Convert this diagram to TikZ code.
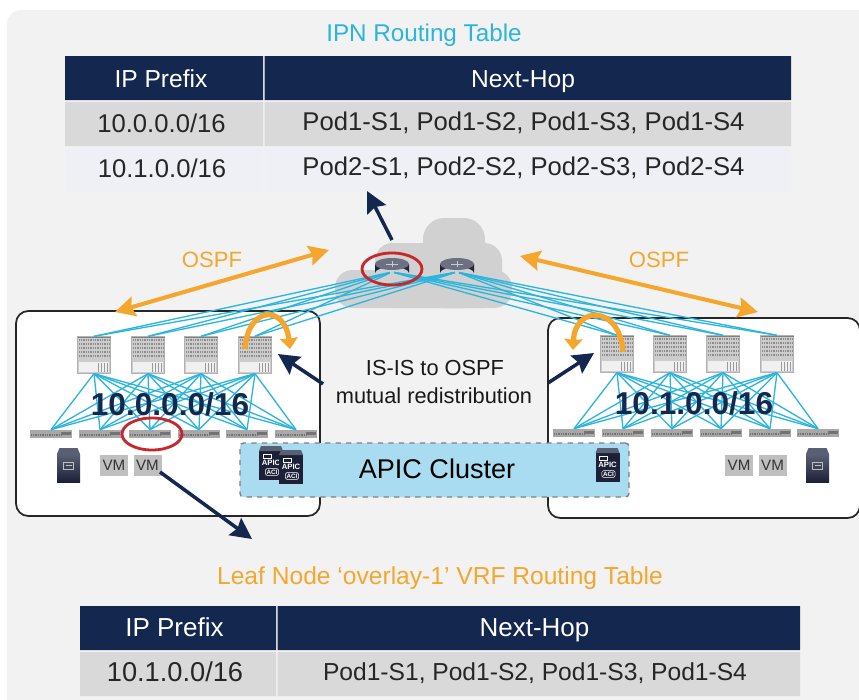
\documentclass[tikz,border=0pt]{standalone}
\usepackage{fontspec}
\setmainfont{Liberation Sans}
\usetikzlibrary{arrows.meta,shapes.geometric}
\definecolor{navy}{HTML}{14284F}
\definecolor{sky}{HTML}{2BB5DD}
\definecolor{amber}{HTML}{F6A62C}
\definecolor{wash}{HTML}{F2F2F2}
\definecolor{apicblue}{HTML}{A9DCF0}
\definecolor{crimson}{HTML}{C8252C}
\definecolor{rowgray}{HTML}{D9D9D9}
\definecolor{rowpale}{HTML}{EEF0F5}
\definecolor{boxdark}{HTML}{1D2138}
\definecolor{boxtop}{HTML}{5A6074}
\newcommand{\px}{0.02cm}
\tikzset{
  hdr/.style={text=white, inner sep=0pt, text height=10pt, text depth=0pt, font=\fontsize{14}{16}\selectfont},
  hdrb/.style={hdr, font=\fontsize{14.8}{16}\selectfont},
  cell/.style={inner sep=0pt, text=black!85, text height=10pt, text depth=0pt, font=\fontsize{14.6}{16}\selectfont},
  cellb/.style={cell, font=\fontsize{14}{16}\selectfont},
  cellc/.style={cell, font=\fontsize{15.5}{16}\selectfont},
  podbox/.style={draw=black!85, line width=1pt, fill=white, rounded corners=7pt},
  spine/.style={fill=black!20, draw=black!30, line width=0.2pt, minimum width=33*\px, minimum height=37*\px, inner sep=0pt},
  leaf/.style={fill=black!34, minimum width=42*\px, minimum height=8*\px, inner sep=0pt},
  vmbox/.style={fill=black!25, text=black!80, minimum width=28*\px, minimum height=21*\px, inner sep=0pt, font=\fontsize{8.6}{10}\selectfont},
  link/.style={draw=sky, line width=0.75pt},
  ospf/.style={draw=amber, line width=2.3pt, {Stealth[length=20*\px,width=20*\px,inset=3*\px]}-{Stealth[length=20*\px,width=20*\px,inset=3*\px]}},
  turnarrow/.style={draw=amber, line width=3pt, -{Stealth[length=11*\px,width=18*\px,inset=1*\px]}},
  pointer/.style={draw=navy, line width=2pt, -{Stealth[length=21*\px,width=21*\px,inset=3*\px]}},
  redmark/.style={draw=crimson, line width=1.6pt, ellipse, minimum width=60*\px, minimum height=32*\px},
  podlabel/.style={text=navy, font=\bfseries\fontsize{18}{20}\selectfont},
  blacklabel/.style={font=\fontsize{12.4}{15}\selectfont, text=black!90},
  orangelabel/.style={text=amber, font=\fontsize{12.6}{15}\selectfont}
}
\newcommand{\spinemarks}[2]{
  \begin{scope}[shift={(#1,#2)}]
    \foreach \ry in {-15,-11,-7,-3,1}
      \draw[black!45, line width=1.2pt, dash pattern=on 0.5pt off 0.5pt] (-15,\ry) -- (15,\ry);
    \fill[black!6] (-15,7) rectangle (15,17);
    \draw[black!50, line width=0.3pt] (-16.5,-18) -- (16.5,-18);
    \foreach \rx in {4,7,10,13}
      \draw[black!40, line width=0.4pt] (\rx,8) -- (\rx,17);
  \end{scope}
}
\newcommand{\leafmarks}[2]{
  \begin{scope}[shift={(#1,#2)}]
    \draw[black!55, line width=1pt, dash pattern=on 0.5pt off 0.5pt] (-20,1) -- (10,1);
    \fill[black!55] (10,-2) rectangle (20,1);
  \end{scope}
}
\newcommand{\routerart}[2]{
  \begin{scope}[shift={(#1,#2)}]
    \shade[left color=boxdark, right color=boxdark, middle color=boxtop!70!boxdark]
      (-17,-4) -- (-17,5) arc[start angle=180, end angle=360, x radius=17, y radius=6] -- (17,-4) -- cycle;
    \fill[boxtop!90!white] (0,-4) ellipse[x radius=17, y radius=6];
    \draw[white!80!black, line width=0.4pt] (-6,-4) -- (6,-4) (0,-7) -- (0,-1);
  \end{scope}
}
\newcommand{\serverart}[2]{
  \begin{scope}[shift={(#1,#2)}]
    \shade[top color=boxtop, bottom color=boxdark] (-11.5,-11) rectangle (11.5,17);
    \fill[boxtop] (-11.5,-11) -- (-9,-17) -- (9,-17) -- (11.5,-11) -- cycle;
    \draw[black!25, line width=0.4pt] (-5,-3) rectangle (5,4);
    \draw[black!25, line width=0.4pt] (-3,0.5) -- (3,0.5);
  \end{scope}
}
\newcommand{\apicart}[2]{
  \begin{scope}[shift={(#1,#2)}]
    \fill[boxdark] (-12,-12) rectangle (12,17);
    \fill[boxtop] (-12,-12) -- (-10,-17) -- (10,-17) -- (12,-12) -- cycle;
    \draw[white, line width=0.4pt] (-8,-9) rectangle (0,-5);
    \node[text=white, inner sep=0pt, font=\bfseries\fontsize{4.4}{5}\selectfont] at (0,0) {APIC};
    \node[text=white, draw=white, line width=0.3pt, rounded corners=1pt, inner sep=0.7pt, font=\bfseries\fontsize{3.6}{4}\selectfont] at (1,9) {ACI};
  \end{scope}
}
\begin{document}
\begin{tikzpicture}[x=\px, y=-\px]
  \useasboundingbox (0,0) rectangle (859,700);
  \fill[wash, rounded corners=8pt] (7,10) rectangle (880,720);

  \fill[navy] (65,56) rectangle (263,100) (264.5,56) rectangle (791,100);
  \fill[rowgray] (65,102) rectangle (263,146) (264.5,102) rectangle (791,146);
  \fill[rowpale] (65,148) rectangle (263,192) (264.5,148) rectangle (791,192);
  \fill[navy] (80,606) rectangle (276,650) (277.5,606) rectangle (800,650);
  \fill[rowgray] (80,652) rectangle (276,696) (277.5,652) rectangle (800,696);

  \node[text=sky, font=\fontsize{13.8}{16}\selectfont] (IPNT) at (424,35) {IPN Routing Table};
  \node[hdr] (A1) at (161,79) {IP Prefix};
  \node[hdr] (A2) at (523,79) {Next-Hop};
  \node[cell] (B1) at (161.5,124) {10.0.0.0/16};
  \node[cell] (B2) at (523.5,122) {Pod1-S1, Pod1-S2, Pod1-S3, Pod1-S4};
  \node[cell] (C1) at (162,169) {10.1.0.0/16};
  \node[cell] (C2) at (523.5,167) {Pod2-S1, Pod2-S2, Pod2-S3, Pod2-S4};

  \node[podbox, minimum width=304*\px, minimum height=205*\px] (PA) at (168,413.5) {};
  \node[podbox, minimum width=312*\px, minimum height=200*\px] (PB) at (704,418) {};

  \fill[black!18, rounded corners=10pt] (335,270) rectangle (512,308);
  \fill[black!18, rounded corners=10pt] (375,243) rectangle (502,308);
  \fill[black!18, rounded corners=12pt] (423,218) rectangle (485,308);

  \node[inner sep=0pt, minimum size=2pt] (RA) at (392,272) {};
  \node[inner sep=0pt, minimum size=2pt] (RB) at (457,272) {};

  \foreach \sid/\sx/\sy in {SA1/94/355, SA2/148/355, SA3/201/355, SA4/255/355, SB1/617/354, SB2/670/354, SB3/723/354, SB4/777/354}
    \node[spine] (\sid) at (\sx,\sy) {};
  \foreach \lid/\lx in {LA1/51, LA2/100, LA3/150, LA4/199, LA5/247, LA6/296}
    \node[leaf] (\lid) at (\lx,434) {};
  \foreach \lid/\lx in {LB1/574, LB2/623, LB3/672, LB4/721, LB5/770, LB6/818}
    \node[leaf] (\lid) at (\lx,433) {};

  \foreach \r in {RA,RB}
    \foreach \s in {SA1,SA2,SA3,SA4,SB1,SB2,SB3,SB4}
      \draw[link] (\r) -- (\s.north);
  \foreach \s in {SA1,SA2,SA3,SA4}
    \foreach \l in {LA1,LA2,LA3,LA4,LA5,LA6}
      \draw[link] (\s.south) -- (\l.north);
  \foreach \s in {SB1,SB2,SB3,SB4}
    \foreach \l in {LB1,LB2,LB3,LB4,LB5,LB6}
      \draw[link] (\s.south) -- (\l.north);

  \foreach \sx/\sy in {94/355, 148/355, 201/355, 255/355, 617/354, 670/354, 723/354, 777/354}
    {\spinemarks{\sx}{\sy}}
  \foreach \lx in {51, 100, 150, 199, 247, 296}
    {\leafmarks{\lx}{434}}
  \foreach \lx in {574, 623, 672, 721, 770, 818}
    {\leafmarks{\lx}{433}}
  \routerart{392}{268}
  \routerart{457}{268}

  \node[podlabel] (NA) at (170,404) {10.0.0.0/16};
  \node[podlabel] (NB) at (694,403) {10.1.0.0/16};

  \node[redmark] (MA) at (392,269) {};
  \node[redmark] (MB) at (152,434) {};

  \node[vmbox] (VA1) at (114,465.5) {VM};
  \node[vmbox] (VA2) at (147.5,465.5) {VM};
  \node[vmbox] (VB1) at (739,465.5) {VM};
  \node[vmbox] (VB2) at (772.5,465.5) {VM};
  \serverart{68.5}{465}
  \serverart{817.5}{465}

  \node[fill=apicblue, draw=black!50, dashed, line width=0.8pt, rounded corners=2pt, minimum width=389*\px, minimum height=54*\px, inner sep=0pt] (AC) at (434.5,470) {};
  \node[text=black, font=\fontsize{15.4}{18}\selectfont] (ACT) at (437,469) {APIC Cluster};
  \apicart{271}{463}
  \apicart{291}{467}
  \apicart{607.5}{465}

  \node[orangelabel] (OA) at (212,260) {OSPF};
  \node[orangelabel] (OB) at (659,260) {OSPF};
  \coordinate (OA1) at (115,312);
  \coordinate (OA2) at (329,250);
  \coordinate (OB1) at (520,256);
  \coordinate (OB2) at (758,312);
  \draw[ospf] (OA1) -- (OA2);
  \draw[ospf] (OB1) -- (OB2);

  \coordinate (TA1) at (245,349);
  \coordinate (TA2) at (290,349);
  \coordinate (TB1) at (623,352);
  \coordinate (TB2) at (573,350);
  \draw[turnarrow] (TA1) .. controls (248,305) and (285,305) .. (TA2);
  \draw[turnarrow] (TB1) .. controls (620,305) and (575,305) .. (TB2);

  \node[blacklabel] (RT1) at (435,368) {IS-IS to OSPF};
  \node[blacklabel] (RT2) at (434,396) {mutual redistribution};

  \coordinate (PA1) at (392,240);
  \coordinate (PA2) at (367,191);
  \coordinate (PB1) at (323,384);
  \coordinate (PB2) at (278,354);
  \coordinate (PC1) at (548,383);
  \coordinate (PC2) at (594,353);
  \coordinate (PD1) at (160,472);
  \coordinate (PD2) at (252,539);
  \draw[pointer] (PA1) -- (PA2);
  \draw[pointer] (PB1) -- (PB2);
  \draw[pointer] (PC1) -- (PC2);
  \draw[pointer] (PD1) -- (PD2);

  \node[orangelabel, font=\fontsize{14}{16}\selectfont] (LNT) at (440,578) {Leaf Node ‘overlay-1’ VRF Routing Table};
  \node[hdrb] (D1) at (174.5,628) {IP Prefix};
  \node[hdrb] (D2) at (534.5,628) {Next-Hop};
  \node[cellc] (E1) at (175,673) {10.1.0.0/16};
  \node[cellb] (E2) at (535,672) {Pod1-S1, Pod1-S2, Pod1-S3, Pod1-S4};
\end{tikzpicture}
\end{document}
